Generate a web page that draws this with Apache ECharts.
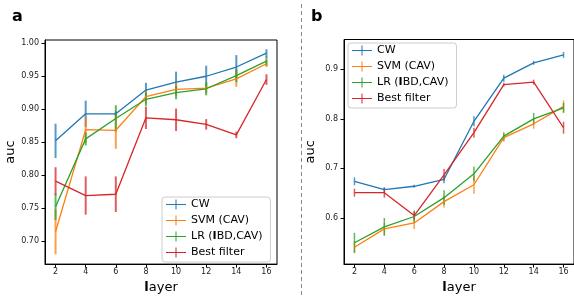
<!DOCTYPE html>
<html>
<head>
<meta charset="utf-8">
<script src="https://cdn.jsdelivr.net/npm/echarts@6/dist/echarts.min.js"></script>
<style>
  html, body { margin: 0; padding: 0; background: #fff; }
  #chart { width: 574px; height: 299px; }
</style>
</head>
<body>
<div id="chart"></div>
<script>
// layers on x axis
const layers = [2, 4, 6, 8, 10, 12, 14, 16];
const seriesNames = ['CW', 'SVM (CAV)', 'LR (IBD,CAV)', 'Best filter'];
const colors = ['#1f77b4', '#ff7f0e', '#2ca02c', '#d62728'];

// panel a: mean auc and error
const aCW = [0.852, 0.893, 0.893, 0.929, 0.941, 0.950, 0.964, 0.985];
const aCWErr = [0.026, 0.020, 0.004, 0.011, 0.016, 0.016, 0.018, 0.006];
const aSVM = [0.714, 0.869, 0.868, 0.919, 0.930, 0.932, 0.946, 0.969];
const aSVMErr = [0.034, 0.020, 0.028, 0.010, 0.010, 0.008, 0.012, 0.005];
const aLR = [0.752, 0.855, 0.886, 0.915, 0.925, 0.931, 0.951, 0.973];
const aLRErr = [0.020, 0.010, 0.020, 0.010, 0.010, 0.010, 0.010, 0.007];
const aBest = [0.791, 0.769, 0.771, 0.887, 0.884, 0.877, 0.861, 0.945];
const aBestErr = [0.021, 0.029, 0.027, 0.017, 0.017, 0.008, 0.005, 0.008];

// panel b
const bCW = [0.674, 0.657, 0.664, 0.678, 0.795, 0.882, 0.913, 0.929];
const bCWErr = [0.008, 0.005, 0.003, 0.008, 0.010, 0.007, 0.004, 0.006];
const bSVM = [0.541, 0.578, 0.590, 0.633, 0.667, 0.762, 0.790, 0.825];
const bSVMErr = [0.012, 0.012, 0.012, 0.012, 0.018, 0.008, 0.010, 0.012];
const bLR = [0.550, 0.582, 0.603, 0.641, 0.689, 0.765, 0.800, 0.822];
const bLRErr = [0.020, 0.018, 0.012, 0.015, 0.015, 0.008, 0.012, 0.010];
const bBest = [0.651, 0.651, 0.605, 0.687, 0.772, 0.869, 0.874, 0.782];
const bBestErr = [0.008, 0.010, 0.008, 0.012, 0.010, 0.004, 0.005, 0.012];

// tick labels
const xTicks = [2, 4, 6, 8, 10, 12, 14, 16];
const aYTicks = [0.70, 0.75, 0.80, 0.85, 0.90, 0.95, 1.00];
const bYTicks = [0.6, 0.7, 0.8, 0.9];

const FONT = 'DejaVu Sans';
const chart = echarts.init(document.getElementById('chart'));

function xAxisFor(gridIndex) {
  return {
    type: 'value', gridIndex: gridIndex, min: 1.3, max: 16.7,
    name: '{b|l}ayer', nameLocation: 'middle', nameGap: 16,
    nameTextStyle: { fontSize: 13, fontFamily: FONT, color: '#000',
      rich: { b: { fontSize: 13, fontFamily: FONT, fontWeight: 'bold', color: '#000' } } },
    axisLine: { lineStyle: { color: '#000', width: 1 } },
    axisTick: { length: 3.5, lineStyle: { color: '#000' }, customValues: xTicks },
    axisLabel: { fontSize: 8, fontFamily: FONT, color: '#222', margin: 4, customValues: xTicks },
    splitLine: { show: false }
  };
}

function yAxisFor(gridIndex, min, max, ticks, digits) {
  return {
    type: 'value', gridIndex: gridIndex, min: min, max: max,
    name: 'auc', nameLocation: 'middle', nameGap: 27,
    nameTextStyle: { fontSize: 13, fontFamily: FONT, color: '#000' },
    axisLine: { show: true, lineStyle: { color: '#000', width: 1 } },
    axisTick: { show: true, length: 3.5, lineStyle: { color: '#000' }, customValues: ticks },
    axisLabel: { fontSize: 8, fontFamily: FONT, color: '#222', margin: 6,
      customValues: ticks, formatter: v => v.toFixed(digits) },
    splitLine: { show: false }
  };
}

function errBars(idx, vals, errs, color, width) {
  return {
    type: 'custom', xAxisIndex: idx, yAxisIndex: idx, silent: true,
    data: layers.map((l, i) => [l, vals[i] - errs[i], vals[i] + errs[i]]),
    renderItem: (params, api) => {
      const p1 = api.coord([api.value(0), api.value(1)]);
      const p2 = api.coord([api.value(0), api.value(2)]);
      return { type: 'line', shape: { x1: p1[0], y1: p1[1], x2: p2[0], y2: p2[1] },
        style: { stroke: color, lineWidth: width, opacity: 0.75 } };
    }
  };
}

function lineSeries(idx, name, vals, color) {
  return {
    type: 'line', name: name, xAxisIndex: idx, yAxisIndex: idx,
    data: layers.map((l, i) => [l, vals[i]]),
    showSymbol: false, symbol: 'none', animation: false,
    lineStyle: { color: color, width: 1.3 }, itemStyle: { color: color }
  };
}

const panelA = [[aCW, aCWErr], [aSVM, aSVMErr], [aLR, aLRErr], [aBest, aBestErr]];
const panelB = [[bCW, bCWErr], [bSVM, bSVMErr], [bLR, bLRErr], [bBest, bBestErr]];

const series = [];
panelA.forEach((d, k) => {
  series.push(lineSeries(0, seriesNames[k], d[0], colors[k]));
  series.push(errBars(0, d[0], d[1], colors[k], 2));
});
panelB.forEach((d, k) => {
  series.push(lineSeries(1, seriesNames[k], d[0], colors[k]));
  series.push(errBars(1, d[0], d[1], colors[k], 1.5));
});

function legendAt(left, top) {
  return {
    data: seriesNames, orient: 'vertical', left: left, top: top,
    icon: 'path://M0,9h40v2h-40z M19,0h2v20h-2z',
    itemWidth: 20, itemHeight: 10, itemGap: 5, itemTextGap: 7,
    padding: [2, 8, 4, 4],
    backgroundColor: 'rgba(255,255,255,0.8)', borderColor: '#ccc', borderWidth: 1, borderRadius: 3,
    selectedMode: false,
    formatter: n => n === 'LR (IBD,CAV)' ? 'LR ({b|I}BD,CAV)' : n,
    textStyle: { fontSize: 11, fontFamily: FONT, color: '#000',
      rich: { b: { fontSize: 11, fontFamily: FONT, fontWeight: 'bold', color: '#000' } } }
  };
}

chart.setOption({
  animation: false,
  grid: [
    { left: 45, top: 40, width: 232, height: 229, show: true, borderColor: '#000', borderWidth: 1 },
    { left: 344, top: 39.5, width: 232, height: 229.5, show: true, borderColor: '#000', borderWidth: 1 }
  ],
  xAxis: [xAxisFor(0), xAxisFor(1)],
  yAxis: [yAxisFor(0, 0.665, 1.005, aYTicks, 2), yAxisFor(1, 0.507, 0.960, bYTicks, 1)],
  legend: [legendAt(162, 197), legendAt(348, 43)],
  series: series,
  graphic: [
    { type: 'text', left: 12, top: 9, style: { text: 'a', fontSize: 16, fontWeight: 'bold', fontFamily: FONT, fill: '#000' } },
    { type: 'text', left: 311, top: 9, style: { text: 'b', fontSize: 16, fontWeight: 'bold', fontFamily: FONT, fill: '#000' } },
    { type: 'line', shape: { x1: 301.5, y1: 4, x2: 301.5, y2: 296 },
      style: { stroke: '#888', lineWidth: 1, lineDash: [4, 3] } }
  ]
});
</script>
</body>
</html>
